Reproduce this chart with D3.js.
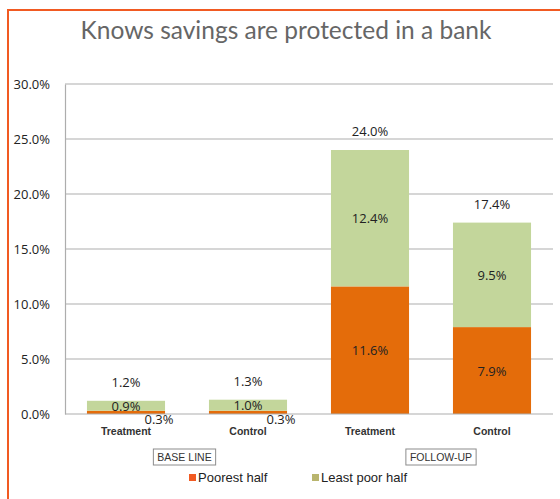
<!DOCTYPE html>
<html>
<head>
<meta charset="utf-8">
<script src="https://cdn.jsdelivr.net/npm/d3@7"></script>
<style>
  html, body { margin: 0; padding: 0; background: #fff; }
  svg { display: block; }
</style>
</head>
<body>
<svg id="chart" width="560" height="499"></svg>
<script>
// Survey result: share of respondents who know savings are protected in a bank
const categories = ["Treatment", "Control", "Treatment", "Control"];
const groups = ["BASE LINE", "BASE LINE", "FOLLOW-UP", "FOLLOW-UP"];
const poorestHalf = [0.3, 0.3, 11.6, 7.9];
const leastPoorHalf = [0.9, 1.0, 12.4, 9.5];
const totals = [1.2, 1.3, 24.0, 17.4];
const yTicks = [0, 5, 10, 15, 20, 25, 30];
const seriesNames = ["Poorest half", "Least poor half"];

const colors = { poor: "#E46C0A", least: "#C3D69B" };
const legendColors = ["#F15A22", "#B9B56E"];
const labelFont = "'Open Sans', 'DejaVu Sans', sans-serif";
const arialFont = "'Liberation Sans', Arial, sans-serif";

const svg = d3.select("#chart");

// Frame: orange rule on top and left
svg.append("line").attr("x1", 8).attr("x2", 560).attr("y1", 10).attr("y2", 10)
  .attr("stroke", "#F15A22").attr("stroke-width", 2);
svg.append("line").attr("x1", 8).attr("x2", 8).attr("y1", 9).attr("y2", 499)
  .attr("stroke", "#F15A22").attr("stroke-width", 2);

svg.append("text")
  .attr("x", 286).attr("y", 39)
  .attr("text-anchor", "middle")
  .attr("font-family", "Lato, 'Open Sans', sans-serif")
  .attr("font-size", 24.5)
  .attr("fill", "#666")
  .text("Knows savings are protected in a bank");

const x0 = 65, x1 = 553, yTop = 84, yBottom = 414;
const idx = d3.range(categories.length);
const x = d3.scaleBand().domain(idx).range([x0, x1]).paddingInner(0.36).paddingOuter(0.18);
const y = d3.scaleLinear().domain([0, 30]).range([yBottom, yTop]);

// Gridlines
svg.append("g").selectAll("line").data(yTicks.filter(t => t > 0)).join("line")
  .attr("x1", x0).attr("x2", x1)
  .attr("y1", d => y(d)).attr("y2", d => y(d))
  .attr("stroke", "#ADADAD").attr("stroke-width", 1.2);

// Y axis
const yAxis = d3.axisLeft(y).tickValues(yTicks).tickFormat(d => d3.format(".1f")(d) + "%")
  .tickSize(0).tickPadding(15);
const yg = svg.append("g").attr("transform", `translate(${x0},0)`).call(yAxis);
yg.select(".domain").attr("stroke", "#ADADAD").attr("stroke-width", 1.2);
yg.selectAll("text").attr("font-family", labelFont).attr("font-size", 13).attr("fill", "#222");

// Stacked bars
const bars = svg.append("g");
bars.selectAll("rect.poor").data(idx).join("rect").attr("class", "poor")
  .attr("x", i => x(i)).attr("width", x.bandwidth())
  .attr("y", i => y(poorestHalf[i])).attr("height", i => y(0) - y(poorestHalf[i]))
  .attr("fill", colors.poor);
bars.selectAll("rect.least").data(idx).join("rect").attr("class", "least")
  .attr("x", i => x(i)).attr("width", x.bandwidth())
  .attr("y", i => y(poorestHalf[i] + leastPoorHalf[i]))
  .attr("height", i => y(poorestHalf[i]) - y(poorestHalf[i] + leastPoorHalf[i]))
  .attr("fill", colors.least);

// X axis baseline
svg.append("line").attr("x1", x0).attr("x2", x1).attr("y1", y(0)).attr("y2", y(0))
  .attr("stroke", "#ADADAD").attr("stroke-width", 1.2);

const pct = v => d3.format(".1f")(v) + "%";
const labels = svg.append("g").attr("font-family", labelFont).attr("font-size", 13)
  .attr("fill", "#222").attr("text-anchor", "middle");

// Totals above each bar
labels.selectAll("text.total").data(idx).join("text").attr("class", "total")
  .attr("x", i => x(i) + x.bandwidth() / 2)
  .attr("y", i => y(totals[i]) - 14)
  .text(i => pct(totals[i]));

// Least poor half: centred in its segment
labels.selectAll("text.least").data(idx).join("text").attr("class", "least")
  .attr("x", i => x(i) + x.bandwidth() / 2)
  .attr("y", i => (y(poorestHalf[i]) + y(poorestHalf[i] + leastPoorHalf[i])) / 2 + 5)
  .text(i => pct(leastPoorHalf[i]));

// Poorest half: centred, or nudged aside when the segment is too thin
labels.selectAll("text.poor").data(idx).join("text").attr("class", "poor")
  .attr("x", i => x(i) + x.bandwidth() / 2 + (poorestHalf[i] < 2 ? 33 : 0))
  .attr("y", i => poorestHalf[i] < 2 ? y(0) + 10 : (y(0) + y(poorestHalf[i])) / 2 + 5)
  .text(i => pct(poorestHalf[i]));

// Category labels
svg.append("g").selectAll("text").data(idx).join("text")
  .attr("x", i => x(i) + x.bandwidth() / 2)
  .attr("y", 435)
  .attr("text-anchor", "middle")
  .attr("font-family", arialFont).attr("font-size", 10.5).attr("font-weight", "bold")
  .attr("fill", "#333")
  .text(i => categories[i]);

// Group boxes
const groupNames = Array.from(new Set(groups));
const groupOffsets = { "BASE LINE": -2.5, "FOLLOW-UP": 10 };
const gBoxes = svg.append("g");
groupNames.forEach(g => {
  const members = idx.filter(i => groups[i] === g);
  const cx = d3.mean(members, i => x(i) + x.bandwidth() / 2) + groupOffsets[g];
  const t = gBoxes.append("text")
    .attr("x", cx).attr("y", 461)
    .attr("text-anchor", "middle")
    .attr("font-family", arialFont).attr("font-size", 10.5)
    .attr("fill", "#333")
    .text(g);
  const w = t.node().getComputedTextLength() + 8;
  gBoxes.insert("rect", "text")
    .attr("x", cx - w / 2).attr("y", 449).attr("width", w).attr("height", 16)
    .attr("fill", "#fff").attr("stroke", "#8C8C8C").attr("stroke-width", 1);
});

// Legend
const legendX = [189, 312];
const legend = svg.append("g");
seriesNames.forEach((name, k) => {
  legend.append("rect").attr("x", legendX[k]).attr("y", 474).attr("width", 7).attr("height", 7)
    .attr("fill", legendColors[k]);
  legend.append("text").attr("x", legendX[k] + 9).attr("y", 482)
    .attr("font-family", arialFont).attr("font-size", 13).attr("fill", "#222")
    .text(name);
});
</script>
</body>
</html>
